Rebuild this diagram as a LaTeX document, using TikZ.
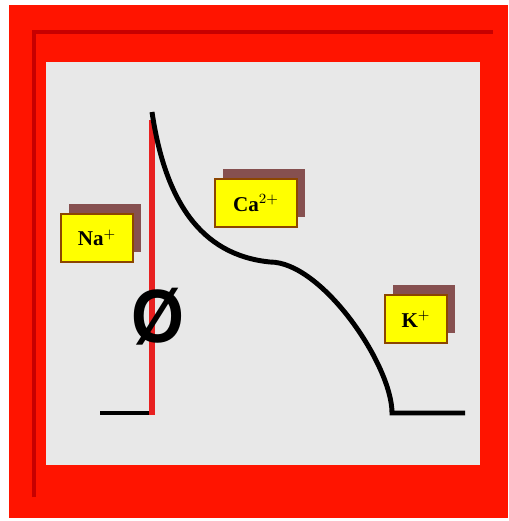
\documentclass[tikz,border=0pt]{standalone}
\usepackage{fontspec}
\setmainfont{Liberation Serif}
\newfontfamily\phasefont{Liberation Sans}
\usepackage{xcolor}
\usetikzlibrary{shadows}
\definecolor{framered}{HTML}{FF1400}
\definecolor{bevelred}{HTML}{C80000}
\definecolor{panelgray}{HTML}{E8E8E8}
\definecolor{ionyellow}{HTML}{FFFF00}
\definecolor{shadowbrown}{HTML}{6E2A2A}
\definecolor{upstroke}{HTML}{E82020}

\begin{document}
\begin{tikzpicture}[
  x=0.02cm, y=-0.02cm,
  ion/.style={draw=orange!55!black, line width=0.6pt, fill=ionyellow, inner sep=0pt,
    font=\bfseries\fontsize{12}{14}\selectfont, minimum width=#1, minimum height=0.96cm,
    drop shadow={shadow xshift=0.16cm, shadow yshift=0.2cm, fill=shadowbrown, opacity=0.8}},
  ion/.default=1.4cm,
  trace/.style={line width=2.8pt}
]
  \useasboundingbox (0,0) rectangle (508,521);

  % Frame
  \fill[framered] (9,5) rectangle (508,518);
  \draw[bevelred, line width=2.2pt] (34,497) -- (34,32) -- (493,32);
  \fill[panelgray] (46,62) rectangle (480,465);

  % Action potential
  \draw[trace] (100,413) -- (152,413);
  \draw[trace, upstroke, line width=3.2pt] (152,120) -- (152,415);
  \draw[trace] (152,112) .. controls (165,200) and (200,255) .. (270,262)
    .. controls (322,262) and (392,365) .. (392,413) -- (465,413);

  % Phase zero
  \node[font=\phasefont\bfseries\fontsize{43}{43}\selectfont, xscale=0.9, inner sep=0pt] (phase) at (158,317) {Ø};

  % Ions
  \node[ion=1.44cm] (na) at (97,238) {Na$^{+}$};
  \node[ion=1.64cm] (ca) at (256,203) {Ca$^{2+}$};
  \node[ion=1.24cm] (k) at (416,319) {K$^{+}$};
\end{tikzpicture}
\end{document}
